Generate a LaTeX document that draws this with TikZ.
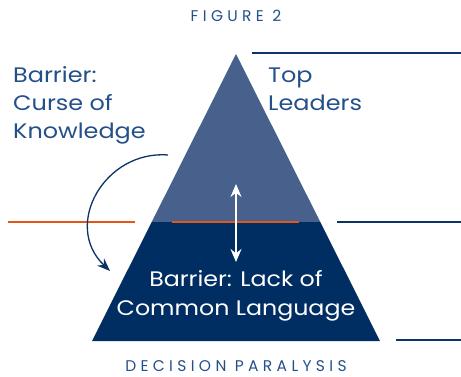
\documentclass[tikz,border=0pt]{standalone}
\usepackage{fontspec}
\setmainfont{Poppins}
\usepackage{tikz}
\usetikzlibrary{arrows.meta}

\definecolor{topblue}{HTML}{48608C}
\definecolor{navy}{HTML}{002E62}
\definecolor{textblue}{HTML}{24508A}
\definecolor{rust}{HTML}{E0561B}
\definecolor{rule}{HTML}{0B3366}

\begin{document}
\begin{tikzpicture}[x=1pt,y=-1pt]
\tikzstyle{big} = [inner sep=0pt, font=\fontsize{21}{28}\selectfont\addfontfeatures{FakeStretch=1.14}, align=left]
\tikzstyle{caps} = [inner sep=0pt, text=textblue, font=\fontsize{15.5}{17}\selectfont\addfontfeatures{LetterSpace=28}]
\tikzstyle{rulerline} = [line width=1.2pt]
\useasboundingbox (0,0) rectangle (461,376);

  % pyramid
  \fill [topblue] (236,54) -- (151.7,222) -- (320.3,222) -- cycle;
  \fill [navy] (151.7,222) -- (92,341) -- (380,341) -- (320.3,222) -- cycle;

  \draw
  node (fig) [caps] at (236,16) {FIGURE 2}
  node (curse) [big, text=textblue, anchor=base west] at (13,138) {Barrier:\\Curse of\\Knowledge}
  node (top) [big, text=textblue, anchor=base west] at (268,110) {Top\\Leaders}
  node (lack) [big, text=white, align=center, anchor=base, font=\fontsize{21}{29}\selectfont\addfontfeatures{FakeStretch=1.13}] at (236,315) {Barrier: Lack of\\Common Language}
  node (paralysis) [caps, anchor=base] at (236,371) {DECISION PARALYSIS};

  \coordinate (up) at (236,184);
  \coordinate (down) at (236,262);
  \coordinate (from) at (168,155);
  \coordinate (to) at (110,271);

  \draw [rulerline, rule] (252,53) -- (461,53);
  \draw [rulerline, rust] (8,222) -- (135,222);
  \draw [rulerline, rust] (172,222) -- (299,222);
  \draw [rulerline, rule] (337,222) -- (461,222);
  \draw [rulerline, rule] (396,340) -- (461,340);

  \draw [white, line width=1.3pt, {Stealth[length=13pt,width=11pt]}-{Stealth[length=13pt,width=11pt]}] (up) -- (down);
  \draw [rule, line width=1.3pt, -{Stealth[length=13pt,width=10pt]}] (from) .. controls (105,150) and (62,225) .. (to);
\end{tikzpicture}
\end{document}
